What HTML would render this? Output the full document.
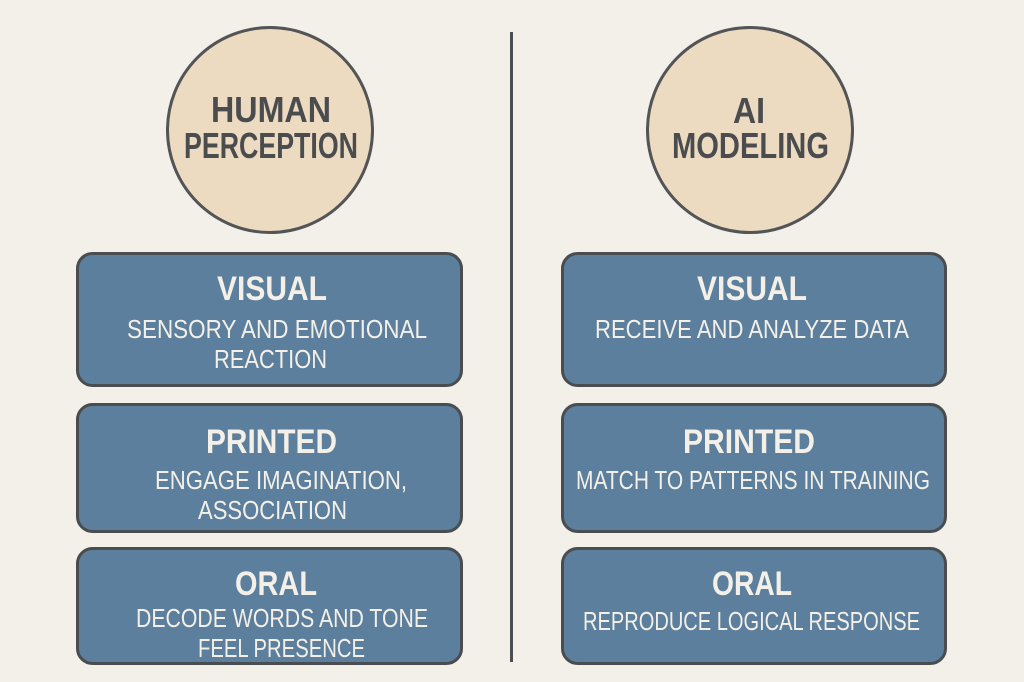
<!DOCTYPE html>
<html>
<head>
<meta charset="utf-8">
<style>
  html, body { margin: 0; padding: 0; background: #f3efe9; }
  body { width: 1024px; height: 682px; overflow: hidden; }
  svg { display: block; }
  .ct { font-family: "Liberation Sans", sans-serif; font-weight: bold; font-size: 36px; fill: #4b4c4e; }
  .bt { font-family: "Liberation Sans", sans-serif; font-weight: bold; font-size: 34px; fill: #f4f0e8; }
  .st { font-family: "Liberation Sans", sans-serif; font-size: 25.5px; fill: #f4f0e8; }
</style>
</head>
<body>
<svg width="1024" height="682" viewBox="0 0 1024 682" xmlns="http://www.w3.org/2000/svg">
  <rect x="0" y="0" width="1024" height="682" fill="#f3efe9"/>

  <!-- divider -->
  <line x1="511.5" y1="32" x2="511.5" y2="662" stroke="#4b4d50" stroke-width="3"/>

  <!-- circles -->
  <circle cx="270" cy="130" r="102.5" fill="#ecdbc1" stroke="#525456" stroke-width="3"/>
  <circle cx="750" cy="130" r="102.5" fill="#ecdbc1" stroke="#525456" stroke-width="3"/>

  <text class="ct" x="211" y="122" textLength="120" lengthAdjust="spacingAndGlyphs">HUMAN</text>
  <text class="ct" x="184" y="158" textLength="174" lengthAdjust="spacingAndGlyphs">PERCEPTION</text>
  <text class="ct" x="733" y="123" textLength="32" lengthAdjust="spacingAndGlyphs">AI</text>
  <text class="ct" x="672" y="158" textLength="157" lengthAdjust="spacingAndGlyphs">MODELING</text>

  <!-- left boxes -->
  <rect x="77.5" y="253.5" width="384" height="132" rx="15" ry="15" fill="#5b7f9c" stroke="#4a4d50" stroke-width="3"/>
  <rect x="77.5" y="404.5" width="384" height="127" rx="15" ry="15" fill="#5b7f9c" stroke="#4a4d50" stroke-width="3"/>
  <rect x="77.5" y="548.5" width="384" height="115" rx="15" ry="15" fill="#5b7f9c" stroke="#4a4d50" stroke-width="3"/>

  <!-- right boxes -->
  <rect x="562.5" y="253.5" width="383" height="132" rx="15" ry="15" fill="#5b7f9c" stroke="#4a4d50" stroke-width="3"/>
  <rect x="562.5" y="404.5" width="383" height="127" rx="15" ry="15" fill="#5b7f9c" stroke="#4a4d50" stroke-width="3"/>
  <rect x="562.5" y="548.5" width="383" height="115" rx="15" ry="15" fill="#5b7f9c" stroke="#4a4d50" stroke-width="3"/>

  <!-- left texts -->
  <text class="bt" x="217" y="300" textLength="110" lengthAdjust="spacingAndGlyphs">VISUAL</text>
  <text class="st" x="127" y="338" textLength="300" lengthAdjust="spacingAndGlyphs">SENSORY AND EMOTIONAL</text>
  <text class="st" x="214" y="368" textLength="113" lengthAdjust="spacingAndGlyphs">REACTION</text>

  <text class="bt" x="206" y="453" textLength="131" lengthAdjust="spacingAndGlyphs">PRINTED</text>
  <text class="st" x="155" y="489" textLength="252" lengthAdjust="spacingAndGlyphs">ENGAGE IMAGINATION,</text>
  <text class="st" x="198" y="519" textLength="149" lengthAdjust="spacingAndGlyphs">ASSOCIATION</text>

  <text class="bt" x="235" y="595" textLength="82" lengthAdjust="spacingAndGlyphs">ORAL</text>
  <text class="st" x="136" y="627" textLength="292" lengthAdjust="spacingAndGlyphs">DECODE WORDS AND TONE</text>
  <text class="st" x="198" y="657" textLength="167" lengthAdjust="spacingAndGlyphs">FEEL PRESENCE</text>

  <!-- right texts -->
  <text class="bt" x="697" y="300" textLength="110" lengthAdjust="spacingAndGlyphs">VISUAL</text>
  <text class="st" x="595" y="338" textLength="314" lengthAdjust="spacingAndGlyphs">RECEIVE AND ANALYZE DATA</text>

  <text class="bt" x="683" y="453" textLength="132" lengthAdjust="spacingAndGlyphs">PRINTED</text>
  <text class="st" x="576" y="489" textLength="354" lengthAdjust="spacingAndGlyphs">MATCH TO PATTERNS IN TRAINING</text>

  <text class="bt" x="712" y="595" textLength="80" lengthAdjust="spacingAndGlyphs">ORAL</text>
  <text class="st" x="583" y="630" textLength="337" lengthAdjust="spacingAndGlyphs">REPRODUCE LOGICAL RESPONSE</text>
</svg>
</body>
</html>
